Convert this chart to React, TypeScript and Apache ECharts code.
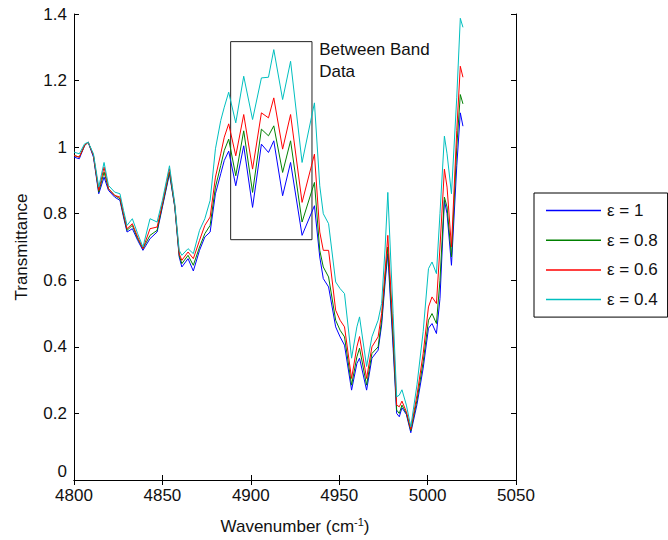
import React, { useEffect, useRef } from "react";
import * as echarts from "echarts";

const wavenumbers = [
  4800, 4803, 4806, 4808, 4811, 4814, 4817, 4819.5, 4823, 4826, 4828, 4830, 4833, 4836, 4839, 4843, 4847,
  4850, 4854, 4857, 4859.5, 4861, 4864.5, 4867.5, 4871, 4874, 4877, 4880, 4883, 4885, 4887.5, 4891.5, 4896,
  4901, 4906, 4910, 4913, 4918, 4922.5, 4929, 4936, 4939, 4941, 4944, 4948, 4950.5, 4953, 4957, 4960, 4961.5,
  4965.5, 4968.5, 4972, 4974, 4976, 4977.5, 4980.5, 4982.5, 4984, 4985.5, 4988, 4990.5, 4994, 4997.5, 5000.5,
  5002.5, 5005, 5007, 5009.5, 5011, 5013.5, 5016.5, 5018.5, 5020,
];

const eps10 = [
  0.97, 0.965, 1.005, 1.015, 0.97, 0.86, 0.91, 0.87, 0.85, 0.84, 0.79, 0.745, 0.755, 0.72, 0.69, 0.725, 0.745,
  0.82, 0.92, 0.82, 0.67, 0.64, 0.665, 0.628, 0.69, 0.73, 0.745, 0.86, 0.92, 0.96, 0.988, 0.884, 1.004,
  0.819, 1.009, 0.984, 1.019, 0.854, 0.954, 0.735, 0.824, 0.67, 0.605, 0.58, 0.46, 0.43, 0.405, 0.27, 0.35, 0.366,
  0.27, 0.366, 0.39, 0.466, 0.595, 0.68, 0.396, 0.2, 0.19, 0.217, 0.197, 0.142, 0.227, 0.336, 0.456,
  0.47, 0.44, 0.545, 0.84, 0.8, 0.645, 0.944, 1.103, 1.063,
];

const eps08 = [
  0.975, 0.97, 1.005, 1.015, 0.975, 0.865, 0.925, 0.875, 0.855, 0.845, 0.795, 0.75, 0.765, 0.725, 0.695, 0.735, 0.75,
  0.825, 0.925, 0.822, 0.675, 0.65, 0.675, 0.645, 0.7, 0.74, 0.765, 0.88, 0.945, 0.99, 1.024, 0.914, 1.049,
  0.864, 1.054, 1.034, 1.064, 0.924, 1.019, 0.775, 0.894, 0.69, 0.64, 0.61, 0.48, 0.45, 0.43, 0.285, 0.37, 0.396,
  0.285, 0.38, 0.4, 0.48, 0.61, 0.7, 0.42, 0.21, 0.2, 0.225, 0.2, 0.148, 0.24, 0.355, 0.48,
  0.5, 0.47, 0.6, 0.85, 0.82, 0.67, 1.0, 1.158, 1.13,
];

const eps06 = [
  0.975, 0.97, 1.005, 1.015, 0.975, 0.87, 0.94, 0.875, 0.855, 0.85, 0.8, 0.755, 0.77, 0.73, 0.695, 0.755, 0.76,
  0.83, 0.935, 0.825, 0.68, 0.66, 0.685, 0.665, 0.72, 0.765, 0.79, 0.91, 0.98, 1.03, 1.07, 0.974, 1.098,
  0.934, 1.103, 1.088, 1.148, 0.994, 1.098, 0.834, 0.979, 0.745, 0.69, 0.69, 0.51, 0.48, 0.46, 0.305, 0.4, 0.431,
  0.305, 0.4, 0.43, 0.5, 0.63, 0.735, 0.45, 0.225, 0.22, 0.237, 0.205, 0.152, 0.255, 0.38, 0.52,
  0.55, 0.53, 0.7, 0.934, 0.88, 0.7, 1.05, 1.243, 1.21,
];

const eps04 = [
  0.985, 0.98, 1.01, 1.015, 0.98, 0.88, 0.954, 0.885, 0.865, 0.86, 0.81, 0.765, 0.785, 0.74, 0.7, 0.785, 0.775,
  0.84, 0.944, 0.83, 0.69, 0.675, 0.695, 0.68, 0.75, 0.785, 0.84, 0.995, 1.08, 1.12, 1.165, 1.073, 1.213,
  1.083, 1.208, 1.21, 1.293, 1.143, 1.258, 0.954, 1.133, 0.884, 0.8, 0.77, 0.595, 0.575, 0.56, 0.366, 0.46, 0.49,
  0.341, 0.43, 0.48, 0.53, 0.7, 0.864, 0.5, 0.25, 0.255, 0.271, 0.225, 0.16, 0.286, 0.446, 0.635,
  0.655, 0.62, 0.8, 1.033, 0.98, 0.86, 1.15, 1.387, 1.36,
];

const seriesNames = ["ε = 1", "ε = 0.8", "ε = 0.6", "ε = 0.4"];
const seriesColors = ["#0000ff", "#008000", "#ff0000", "#00bfbf"];
const seriesValues = [eps10, eps08, eps06, eps04];

const boxX = [4888.6, 4934.6];
const boxY = [0.722, 1.317];
const boxText = "Between Band\nData";

const xTicks = { min: 4800, max: 5050, interval: 50 };
const yTicks = { min: 0, max: 1.4, interval: 0.2 };

const FONT = "Liberation Sans, Arial, sans-serif";

export default function App() {
  const ref = useRef<HTMLDivElement>(null);
  useEffect(() => {
    if (!ref.current) return;
    const chart = echarts.init(ref.current, null, { renderer: "svg" });
    const axisLine = { show: true, lineStyle: { color: "#000", width: 1 } };
    const axisTick = { show: true, inside: true, length: 5, lineStyle: { color: "#000", width: 1 } };
    const series: any[] = seriesValues.map((vals, i) => ({
      type: "line",
      name: seriesNames[i],
      data: wavenumbers.map((w, j) => [w, vals[j]]),
      showSymbol: false,
      symbol: "none",
      lineStyle: { color: seriesColors[i], width: 1 },
      itemStyle: { color: seriesColors[i] },
      z: 3 + i,
    }));
    series[0].markArea = {
      silent: true,
      itemStyle: { color: "rgba(0,0,0,0)", borderColor: "#222", borderWidth: 1 },
      label: {
        show: true,
        position: [89, -3],
        align: "left",
        verticalAlign: "top",
        color: "#111",
        fontFamily: FONT,
        fontSize: 17,
        lineHeight: 22,
        formatter: boxText,
      },
      data: [[{ coord: [boxX[0], boxY[1]] }, { coord: [boxX[1], boxY[0]] }]],
    };
    chart.setOption({
      animation: false,
      backgroundColor: "#fff",
      textStyle: { fontFamily: FONT },
      grid: { left: 74, right: 152, top: 14, bottom: 57.5, containLabel: false },
      legend: {
        orient: "vertical",
        left: 534,
        top: 193,
        width: 132,
        icon: "rect",
        itemWidth: 55,
        itemHeight: 1.5,
        itemGap: 12.7,
        padding: [9, 10, 9, 12],
        borderColor: "#000",
        borderWidth: 1,
        backgroundColor: "#fff",
        textStyle: { fontSize: 17, lineHeight: 14, height: 14, color: "#111", fontFamily: FONT, padding: [0, 0, 0, 1] },
        data: seriesNames,
      },
      xAxis: [
        {
          type: "value",
          min: xTicks.min,
          max: xTicks.max,
          interval: xTicks.interval,
          position: "bottom",
          axisLine,
          axisTick,
          splitLine: { show: false },
          axisLabel: {
            color: "#111",
            fontSize: 17,
            fontFamily: FONT,
            margin: 7,
            formatter: (v: number) => String(v),
          },
          name: "Wavenumber (cm{sup|-1})",
          nameLocation: "middle",
          nameGap: 36,
          nameTextStyle: {
            color: "#111",
            fontSize: 17,
            fontFamily: FONT,
            rich: { sup: { fontSize: 11, fontFamily: FONT, color: "#111", padding: [0, 0, 10, 0] } },
          },
        },
        {
          type: "value",
          min: xTicks.min,
          max: xTicks.max,
          interval: xTicks.interval,
          position: "top",
          axisLine,
          axisTick,
          splitLine: { show: false },
          axisLabel: { show: false },
        },
      ],
      yAxis: [
        {
          type: "value",
          min: yTicks.min,
          max: yTicks.max,
          interval: yTicks.interval,
          position: "left",
          axisLine,
          axisTick,
          splitLine: { show: false },
          axisLabel: {
            color: "#111",
            fontSize: 17,
            fontFamily: FONT,
            margin: 7,
            verticalAlignMinLabel: "bottom",
            formatter: (v: number) => String(Math.round(v * 10) / 10),
          },
          name: "Transmittance",
          nameLocation: "middle",
          nameGap: 44,
          nameTextStyle: { color: "#111", fontSize: 17, fontFamily: FONT },
        },
        {
          type: "value",
          min: yTicks.min,
          max: yTicks.max,
          interval: yTicks.interval,
          position: "right",
          axisLine,
          axisTick,
          splitLine: { show: false },
          axisLabel: { show: false },
        },
      ],
      series,
    });
    return () => chart.dispose();
  }, []);
  return (
    <div
      ref={ref}
      style={{ position: "fixed", left: 0, top: 0, width: 668, height: 540, background: "#fff" }}
    />
  );
}
